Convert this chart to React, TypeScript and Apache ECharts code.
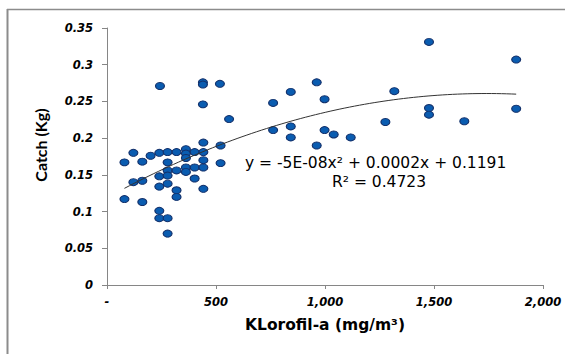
import React, { useEffect, useRef } from "react";
import * as echarts from "echarts";

// Chlorophyll-a (mg/m³) readings
const chlorophyll: number[] = [
  80, 121, 162, 200, 240, 278, 319, 362, 362, 362, 402, 442, 442, 521, 278, 442, 521,
  278, 319, 362, 362, 402, 442, 240, 278, 402, 442, 319, 319, 240, 278, 121, 162, 80,
  162, 240, 240, 278, 278,
  243, 440, 440, 518, 440, 560,
  762, 762, 843, 843, 843, 962, 998, 962, 998, 1040, 1118, 1277, 1318, 1477, 1477, 1477,
  1639, 1877, 1877,
];
// Catch (Kg)
const catchKg: number[] = [
  0.167, 0.18, 0.168, 0.176, 0.18, 0.181, 0.181, 0.185, 0.179, 0.173, 0.181, 0.194, 0.181,
  0.19, 0.167, 0.17, 0.166, 0.156, 0.156, 0.16, 0.154, 0.16, 0.16, 0.148, 0.149, 0.145,
  0.131, 0.129, 0.12, 0.134, 0.138, 0.14, 0.142, 0.117, 0.113, 0.101, 0.091, 0.091, 0.07,
  0.271, 0.276, 0.273, 0.274, 0.246, 0.226,
  0.248, 0.211, 0.263, 0.216, 0.201, 0.276, 0.253, 0.19, 0.211, 0.205, 0.201, 0.222, 0.264,
  0.331, 0.241, 0.232, 0.223, 0.307, 0.24,
];

const xTicks = { min: 0, max: 2000, interval: 500 };
const yTicks = { min: 0, max: 0.35, interval: 0.05 };
const xName = "KLorofil-a (mg/m³)";
const yName = "Catch (Kg)";
const equationText = "y = -5E-08x² + 0.0002x + 0.1191";
const r2Text = "R² = 0.4723";

// least-squares quadratic fit (Excel polynomial trendline, order 2)
function fitQuadratic(xs: number[], ys: number[]): [number, number, number] {
  const s = [0, 0, 0, 0, 0];
  const t = [0, 0, 0];
  for (let i = 0; i < xs.length; i++) {
    let p = 1;
    for (let k = 0; k < 5; k++) {
      s[k] += p;
      if (k < 3) t[k] += p * ys[i];
      p *= xs[i];
    }
  }
  const M = [
    [s[0], s[1], s[2], t[0]],
    [s[1], s[2], s[3], t[1]],
    [s[2], s[3], s[4], t[2]],
  ];
  for (let c = 0; c < 3; c++) {
    for (let r = c + 1; r < 3; r++) {
      const f = M[r][c] / M[c][c];
      for (let k = c; k < 4; k++) M[r][k] -= f * M[c][k];
    }
  }
  const sol = [0, 0, 0];
  for (let r = 2; r >= 0; r--) {
    let v = M[r][3];
    for (let k = r + 1; k < 3; k++) v -= M[r][k] * sol[k];
    sol[r] = v / M[r][r];
  }
  return [sol[0], sol[1], sol[2]]; // c, b, a
}

export default function App() {
  const ref = useRef<HTMLDivElement>(null);
  useEffect(() => {
    if (!ref.current) return;
    const chart = echarts.init(ref.current, undefined, { renderer: "svg" });
    const points = chlorophyll.map((x, i) => [x, catchKg[i]]);
    const [c, b, a] = fitQuadratic(chlorophyll, catchKg);
    const xmin = Math.min(...chlorophyll);
    const xmax = Math.max(...chlorophyll);
    const trend: number[][] = [];
    const steps = 80;
    for (let i = 0; i <= steps; i++) {
      const x = xmin + ((xmax - xmin) * i) / steps;
      trend.push([x, a * x * x + b * x + c]);
    }
    const tickFont = {
      fontFamily: "DejaVu Sans",
      fontWeight: "bold" as const,
      fontStyle: "italic" as const,
      fontSize: 11.5,
      color: "#000",
    };
    chart.setOption({
      animation: false,
      grid: { left: 107, right: 31, top: 28, bottom: 69 },
      xAxis: {
        type: "value",
        min: xTicks.min,
        max: xTicks.max,
        interval: xTicks.interval,
        name: xName,
        nameLocation: "middle",
        nameGap: 32,
        nameTextStyle: { fontFamily: "DejaVu Sans", fontWeight: "bold", fontSize: 15.5, color: "#000" },
        splitLine: { show: false },
        axisLine: { lineStyle: { color: "#868686", width: 1 } },
        axisTick: { show: true, length: 4, lineStyle: { color: "#868686" } },
        axisLabel: {
          ...tickFont,
          margin: 11,
          formatter: (v: number) => (v === 0 ? "-" : v.toLocaleString("en-US")),
        },
      },
      yAxis: {
        type: "value",
        min: yTicks.min,
        max: yTicks.max,
        interval: yTicks.interval,
        splitLine: { show: false },
        axisLine: { show: true, lineStyle: { color: "#868686", width: 1 } },
        axisTick: { show: true, length: 5, lineStyle: { color: "#868686" } },
        axisLabel: { ...tickFont, margin: 14 },
      },
      series: [
        {
          type: "scatter",
          data: points,
          symbol: "circle",
          symbolSize: [9, 7],
          itemStyle: { color: "#0a5cb0", borderColor: "#13306a", borderWidth: 1, opacity: 1 },
        },
        {
          type: "line",
          data: trend,
          showSymbol: false,
          symbol: "none",
          lineStyle: { color: "#333", width: 1 },
          z: 3,
        },
      ],
      graphic: [
        { type: "line", shape: { x1: 7, y1: 9.5, x2: 565, y2: 9.5 }, style: { stroke: "#8c8c8c", lineWidth: 1.5 } },
        { type: "line", shape: { x1: 7.5, y1: 9, x2: 7.5, y2: 354 }, style: { stroke: "#8c8c8c", lineWidth: 2 } },
        {
          type: "text",
          x: 40,
          y: 145,
          rotation: Math.PI / 2,
          style: {
            text: yName,
            fontFamily: "Lato",
            fontWeight: "bold",
            fontSize: 16,
            fill: "#000",
            textAlign: "center",
            textVerticalAlign: "middle",
          },
        },
        {
          type: "text",
          x: 245,
          y: 163,
          style: {
            text: equationText,
            fontFamily: "DejaVu Sans",
            fontSize: 15.5,
            fill: "#000",
            textAlign: "left",
            textVerticalAlign: "middle",
          },
        },
        {
          type: "text",
          x: 379,
          y: 182,
          style: {
            text: r2Text,
            fontFamily: "DejaVu Sans",
            fontSize: 15.5,
            fill: "#000",
            textAlign: "center",
            textVerticalAlign: "middle",
          },
        },
      ],
    });
    return () => chart.dispose();
  }, []);
  return (
    <div
      ref={ref}
      style={{ position: "absolute", left: 0, top: 0, width: 574, height: 354, background: "#fff" }}
    />
  );
}
